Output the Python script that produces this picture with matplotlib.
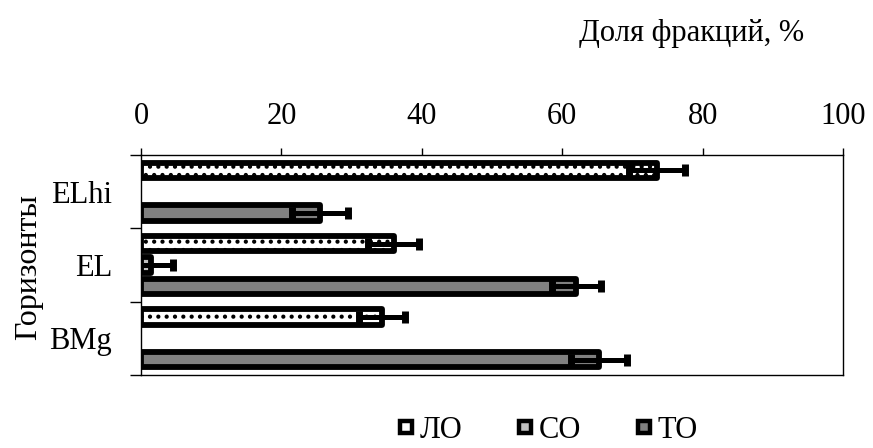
import numpy as np
import matplotlib
matplotlib.use('Agg')
import matplotlib.pyplot as plt
from matplotlib.lines import Line2D

plt.rcParams['font.family'] = ['Liberation Serif', 'DejaVu Serif']
plt.rcParams['font.size'] = 22
plt.rcParams['hatch.linewidth'] = 1.8

horizons = ['ELhi', 'EL', 'BMg']
series = ['ЛО', 'СО', 'ТО']

lo_vals = [73.5, 36.0, 34.3]
lo_err = [4.0, 3.6, 3.3]
so_vals = [np.nan, 1.4, np.nan]
so_err = [np.nan, 3.2, np.nan]
to_vals = [25.5, 62.0, 65.2]
to_err = [4.0, 3.5, 4.0]

fills = ['white', '#c0c0c0', '#808080']
hatches = ['..', None, None]

fig = plt.figure(figsize=(8.73, 4.48), dpi=100)
ax = fig.add_axes([141 / 873, 1 - 375 / 448, 702 / 873, 220 / 448])

y = np.arange(len(horizons))
offsets = [-0.29, 0.0, 0.29]
bar_h = 0.21

for vals, errs, off, fc, ht in zip([lo_vals, so_vals, to_vals],
                                   [lo_err, so_err, to_err],
                                   offsets, fills, hatches):
    vals = np.array(vals, dtype=float)
    errs = np.array(errs, dtype=float)
    ok = ~np.isnan(vals)
    bars = ax.barh(y[ok] + off, vals[ok], height=bar_h, color=fc,
                   edgecolor='black', linewidth=4.2, hatch=ht, zorder=2)
    for b in bars:
        b.set_joinstyle('round')
    ax.errorbar(vals[ok], y[ok] + off, xerr=errs[ok], fmt='none',
                ecolor='black', elinewidth=3.6, capsize=4.5, capthick=5,
                zorder=3)

ax.set_xlim(0, 100)
ax.set_ylim(2.5, -0.5)

ax.set_xticks(range(0, 101, 20))
ax.xaxis.tick_top()
ax.tick_params(axis='x', top=True, bottom=False, labeltop=True,
               labelbottom=False, length=5, width=1, pad=12)

ax.set_yticks(y)
ax.set_yticklabels(horizons)
ax.set_yticks([-0.5, 0.5, 1.5, 2.5], minor=True)
ax.tick_params(axis='y', which='major', length=0, pad=21)
ax.tick_params(axis='y', which='minor', length=8, width=1)

for s in ax.spines.values():
    s.set_linewidth(1.0)
    s.set_color('black')

fig.text(692 / 873, 1 - 33 / 448, 'Доля фракций, %', ha='center', va='center')
fig.text(29 / 873, 1 - 267 / 448, 'Горизонты', ha='center', va='center',
         rotation=90, fontsize=23)

# legend keys: small squares with a heavy black frame
handles = [Line2D([], [], linestyle='none', marker='s', markersize=8.5,
                  markerfacecolor=fc, markeredgecolor='black',
                  markeredgewidth=3.2)
           for fc in fills]
fig.legend(handles, series, loc='center',
           bbox_to_anchor=(548 / 873, 1 - 430 / 448), ncol=3, frameon=False,
           handlelength=0.5, handletextpad=0.2,
           columnspacing=1.8, borderpad=0)

fig.savefig('out.png', dpi=100)
